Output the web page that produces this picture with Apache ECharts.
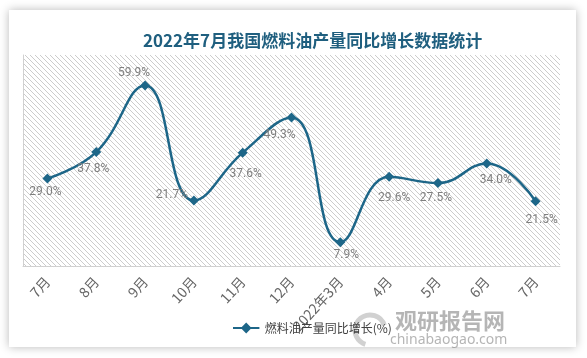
<!DOCTYPE html>
<html><head><meta charset="utf-8">
<script src="https://cdn.jsdelivr.net/npm/echarts@6/dist/echarts.min.js"></script>
<style>
html,body{margin:0;padding:0;background:#fff;width:587px;height:358px;overflow:hidden;}
#card{position:absolute;left:9px;top:10px;width:567px;height:337px;background:#fff;box-shadow:0 0 9px rgba(0,0,0,0.28);}
#chart{position:absolute;left:0;top:0;width:587px;height:358px;}
</style></head>
<body><div id="card"></div><div id="chart"></div>
<script>
const titleText = '2022年7月我国燃料油产量同比增长数据统计';
const seriesName = '燃料油产量同比增长(%)';
const categories = ['7月','8月','9月','10月','11月','12月','2022年3月','4月','5月','6月','7月'];
const values = [29.0, 37.8, 59.9, 21.7, 37.6, 49.3, 7.9, 29.6, 27.5, 34.0, 21.5];
// label offsets (style): [dx, dy] relative to point
const labelOffsets = [[-2,13],[-3,17],[-11,-12],[-22,-6],[3,21],[-12,18],[6,13],[5,21],[-2,15],[9,16],[6,19]];

const pc = document.createElement('canvas');
pc.width = 10; pc.height = 10;
const ctx = pc.getContext('2d');
ctx.fillStyle = '#ffffff'; ctx.fillRect(0,0,10,10);
ctx.fillStyle = '#cccccc';
for (let y=0;y<10;y++) for (let x=0;x<10;x++) if (((x - y) % 5 + 5) % 5 === 0) ctx.fillRect(x,y,1,1);

const chart = echarts.init(document.getElementById('chart'), null, {renderer:'canvas'});
chart.setOption({
  backgroundColor: 'transparent',
  animation: false,
  title: {
    text: titleText, left: 138, top: 27,
    textStyle: {fontFamily: '"Noto Sans CJK SC"', fontSize: 17, fontWeight: 'bold', color: '#1f5f7f'}
  },
  legend: {
    data: [{name: seriesName, icon: 'path://M0,4 L8,4 L12,0 L16,4 L24,4 L24,6 L16,6 L12,10 L8,6 L0,6 Z'}],
    left: 228, top: 317, itemWidth: 27, itemHeight: 11, itemGap: 4,
    textStyle: {fontFamily: '"Noto Sans CJK SC"', fontSize: 12, color: '#404040'}
  },
  grid: {left: 23, right: 27, top: 55, bottom: 92, show: true, borderWidth: 0,
    backgroundColor: {image: pc, repeat: 'repeat'}},
  xAxis: {
    type: 'category', data: categories, boundaryGap: true,
    axisLine: {lineStyle: {color: '#d0d0d0', width: 1}},
    axisTick: {show: false},
    axisLabel: {rotate: 48, interval: 0, margin: 13, color: '#666666', fontSize: 14, fontFamily: '"Noto Sans CJK SC"'}
  },
  yAxis: {
    type: 'value', min: 0, max: 70, interval: 10,
    axisLine: {show: true, lineStyle: {color: '#d0d0d0'}},
    axisTick: {show: false}, axisLabel: {show: false}, splitLine: {show: false}
  },
  series: [{
    name: seriesName, type: 'line', smooth: 0.45,
    data: values.map((v, i) => ({value: v, label: {offset: labelOffsets[i]}})),
    symbol: 'diamond', symbolSize: 10,
    lineStyle: {color: '#1d6688', width: 2.5},
    itemStyle: {color: '#1d6688'},
    label: {show: true, position: 'inside', formatter: p => p.value.toFixed(1) + '%',
      color: '#7f7f7f', fontSize: 12, fontFamily: 'Roboto'}
  }],
  graphic: [
    {type: 'text', left: 395, top: 310, style: {text: '观研报告网', fill: 'rgba(120,120,120,0.55)', font: 'bold 22px "Noto Sans CJK SC"'}},
    {type: 'text', left: 390, top: 333, style: {text: 'chinabaogao.com', fill: 'rgba(120,120,120,0.55)', font: '14px "Noto Sans"'}},
    {type: 'arc', shape: {cx: 370, cy: 330, r: 15, startAngle: Math.PI*0.6, endAngle: Math.PI*1.9}, style: {stroke: 'rgba(140,140,140,0.4)', lineWidth: 5, fill: 'none'}}
  ]
});
</script></body></html>
